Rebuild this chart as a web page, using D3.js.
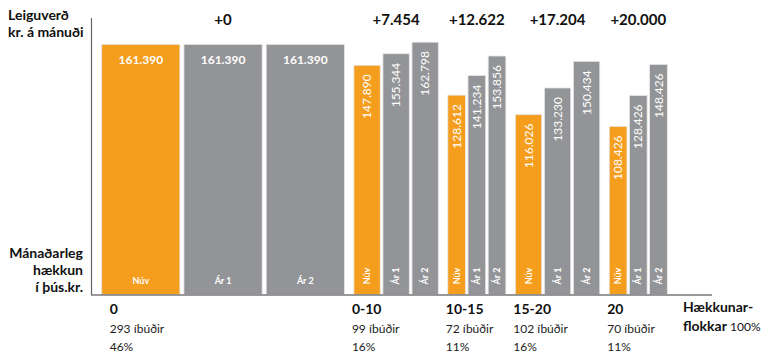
<!DOCTYPE html>
<html><head><meta charset="utf-8">
<script src="https://cdn.jsdelivr.net/npm/d3@7"></script>
<style>
body{margin:0;background:#fff;}
svg{display:block;}
text{font-family:Lato, "Open Sans", sans-serif;}
</style></head>
<body><svg id="c" width="770" height="355"></svg>
<script>
const categories = ["0","0-10","10-15","15-20","20"];
const apartments = [293,99,72,102,70];
const shares = [46,16,11,16,11];
const seriesNames = ["Núv","Ár 1","Ár 2"];
const nuv = [161390,147890,128612,116026,108426];
const ar1 = [161390,155344,141234,133230,128426];
const ar2 = [161390,162798,153856,150434,148426];
const yTitle = ["Leiguverð","kr. á mánuði"];
const incTitle = ["Mánaðarleg","hækkun","í þús.kr."];
const xTitle = ["Hækkunar-","flokkar"];
const totalLabel = "100%";
const colors = ["#f59d1d","#939497","#939497"];

const loc = d3.formatLocale({decimal:",",thousands:".",grouping:[3],currency:["","kr."]});
const fmt = loc.format(",");
const fmtIncFull = v => v===0 ? "+0" : "+" + (Math.floor(v/1000)) + "." + String(v%1000).padStart(3,"0");

const svg = d3.select("#c");
const x0 = 101.7, x1 = 667.3, gap = 9.5;
const totalShare = d3.sum(shares);
const xs = d3.scaleLinear().domain([0,totalShare]).range([x0, x1 - gap*(shares.length-1)]);
const cum = d3.cumsum([0].concat(shares));
const groups = categories.map((c,i)=>({
  cat:c, i, start: xs(cum[i]) + gap*i, width: xs(cum[i+1]) - xs(cum[i]),
  vals:[nuv[i],ar1[i],ar2[i]], n:apartments[i], share:shares[i]
}));
const y = d3.scaleLinear().domain([0,170000]).range([294.5,31]);

groups.forEach(g=>{
  const inner = d3.scaleBand().domain(seriesNames).range([g.start-1, g.start+g.width+1]).paddingInner(0.025);
  const horiz = inner.bandwidth() > 50;
  const gg = svg.append("g");
  seriesNames.forEach((s,k)=>{
    const v = g.vals[k];
    const bx = inner(s)+1, bw = inner.bandwidth()-2;
    gg.append("rect").attr("x",bx).attr("y",y(v)).attr("width",bw).attr("height",y(0)-y(v))
      .attr("fill",colors[k]).attr("stroke","#e6e6e6").attr("stroke-width",0.8);
    const cx = bx + bw/2;
    if(horiz){
      gg.append("text").attr("x",cx).attr("y",y(v)+20).attr("text-anchor","middle")
        .attr("fill","#fff").attr("font-size",12).attr("font-weight",700).text(fmt(v));
      gg.append("text").attr("x",cx).attr("y",284).attr("text-anchor","middle")
        .attr("fill","#fff").attr("font-size",9).attr("font-weight",700).text(s);
    } else {
      gg.append("text").attr("transform",`translate(${cx+4.2},${y(v)+9}) rotate(-90)`)
        .attr("text-anchor","end").attr("fill","#fff").attr("font-size",12).text(fmt(v));
      gg.append("text").attr("transform",`translate(${cx+3.2},276) rotate(-90)`)
        .attr("text-anchor","middle").attr("fill","#fff").attr("font-size",9).attr("font-weight",700).text(s);
    }
  });
  svg.append("text").attr("x",g.start+g.width/2).attr("y",25).attr("text-anchor","middle")
    .attr("font-size",15).attr("font-weight",700).attr("fill","#111").text(fmtIncFull(g.vals[1]-g.vals[0]));
  const lx = g.start + (g.i===0 ? 8 : -2);
  svg.append("text").attr("x",lx).attr("y",314).attr("font-size",14).attr("font-weight",700).attr("fill","#111").text(g.cat);
  svg.append("text").attr("x",lx).attr("y",333).attr("font-size",12).attr("fill","#222").text(g.n+" íbúðir");
  svg.append("text").attr("x",lx).attr("y",351).attr("font-size",12).attr("fill","#222").text(g.share+"%");
});

svg.append("line").attr("x1",91.5).attr("x2",91.5).attr("y1",18).attr("y2",295).attr("stroke","#666").attr("stroke-width",1.2);
svg.append("line").attr("x1",91).attr("x2",712).attr("y1",295).attr("y2",295).attr("stroke","#777").attr("stroke-width",1.5);

yTitle.forEach((t,i)=>svg.append("text").attr("x",8).attr("y",20+i*17).attr("font-size",14).attr("font-weight",700).attr("fill","#111").text(t));
incTitle.forEach((t,i)=>svg.append("text").attr("x",83).attr("y",258+i*17).attr("text-anchor","end").attr("font-size",14).attr("font-weight",700).attr("fill","#111").text(t));

svg.append("text").attr("x",683).attr("y",312).attr("font-size",14).attr("font-weight",700).attr("fill","#111").text(xTitle[0]);
const t2 = svg.append("text").attr("x",683).attr("y",331).attr("font-size",14).attr("font-weight",700).attr("fill","#111");
t2.append("tspan").text(xTitle[1]+" ");
t2.append("tspan").attr("font-weight",400).attr("font-size",12).text(totalLabel);
</script></body></html>
